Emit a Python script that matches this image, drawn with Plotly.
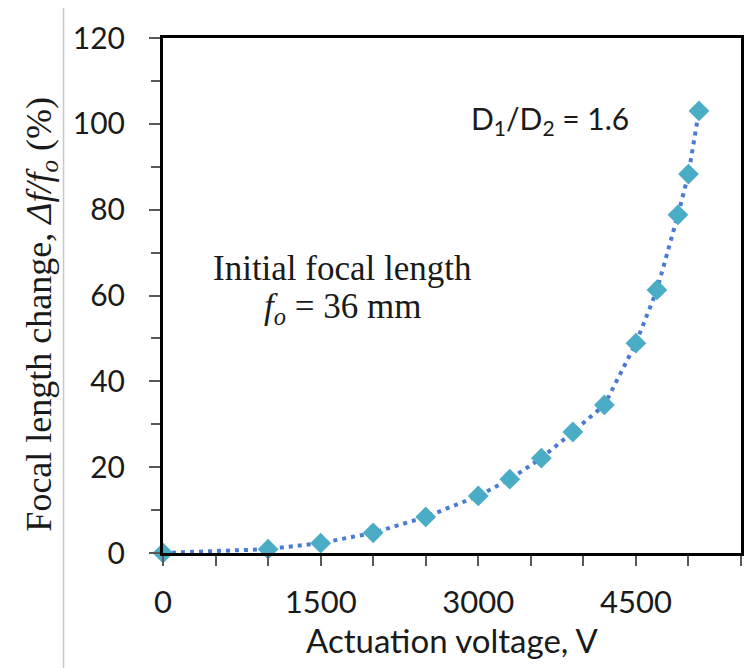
import plotly.graph_objects as go

voltage = [0, 1000, 1500, 2000, 2500, 3000, 3300, 3600, 3900, 4200, 4500, 4700, 4900, 5000, 5100]
focal_change = [0, 0.9, 2.3, 4.7, 8.4, 13.3, 17.2, 22.1, 28.2, 34.5, 48.9, 61.3, 78.8, 88.3, 103]

x_ticks = [0, 1500, 3000, 4500]
y_ticks = [0, 20, 40, 60, 80, 100, 120]

sans = "Lato"
serif = "Liberation Serif"

# plot area in pixels: x 163..744, y 38..553
PW, PH = 581, 515


def px(x):
    return (x - 163) / PW


def py(y):
    return (553 - y) / PH


fig = go.Figure()
fig.add_trace(go.Scatter(
    x=voltage, y=focal_change, mode="lines+markers",
    line=dict(color="#4a7bd4", width=4, dash="4px,5px"),
    marker=dict(symbol="diamond", size=16, color="#4BACC6", line=dict(width=0)),
    showlegend=False, cliponaxis=False,
))

fig.update_layout(
    width=749, height=668,
    margin=dict(l=163, r=5, t=38, b=115),
    paper_bgcolor="white", plot_bgcolor="white",
    xaxis=dict(
        range=[0, 5500], tickvals=x_ticks, ticktext=[str(v) for v in x_ticks],
        ticks="outside", ticklen=10, tickwidth=2, tickcolor="#595959",
        minor=dict(dtick=500, tick0=0, ticks="outside", ticklen=10, tickwidth=2, tickcolor="#595959"),
        showline=True, linecolor="black", linewidth=3, mirror=True,
        showgrid=False, zeroline=False,
        tickfont=dict(family=sans, size=31, color="#1a1a1a"),
        ticklabelstandoff=10,
        title=dict(text="Actuation voltage, V", font=dict(family=sans, size=33, color="#1a1a1a"), standoff=6),
    ),
    yaxis=dict(
        range=[0, 120], tickvals=y_ticks, ticktext=[str(v) for v in y_ticks],
        ticks="outside", ticklen=11, tickwidth=2, tickcolor="#595959",
        minor=dict(dtick=10, tick0=0, ticks="outside", ticklen=9, tickwidth=2, tickcolor="#595959"),
        showline=True, linecolor="black", linewidth=3, mirror=True,
        showgrid=False, zeroline=False,
        tickfont=dict(family=sans, size=30, color="#1a1a1a"),
        ticklabelstandoff=18,
    ),
    annotations=[
        dict(xref="paper", yref="paper", x=px(40), y=py(314), textangle=-90,
             text="Focal length change, <i>Δf/f<sub>o</sub></i> (%)", showarrow=False,
             font=dict(family=serif, size=36, color="#1a1a1a"), xanchor="center", yanchor="middle"),
        dict(xref="paper", yref="paper", x=px(552), y=py(120),
             text="D<sub>1</sub>/D<sub>2</sub> = 1.6", showarrow=False,
             font=dict(family=sans, size=30, color="#1a1a1a"), xanchor="center", yanchor="middle"),
        dict(xref="paper", yref="paper", x=px(343), y=py(268),
             text="Initial focal length", showarrow=False,
             font=dict(family=serif, size=35, color="#1a1a1a"), xanchor="center", yanchor="middle"),
        dict(xref="paper", yref="paper", x=px(343), y=py(308),
             text="<i>f<sub>o</sub></i> = 36 mm", showarrow=False,
             font=dict(family=serif, size=35, color="#1a1a1a"), xanchor="center", yanchor="middle"),
    ],
    shapes=[dict(type="line", xref="paper", yref="paper", x0=px(63), x1=px(63),
                 y0=py(668), y1=py(8), line=dict(color="#c8c8c8", width=1.5))],
)

fig.write_html("out.html")
